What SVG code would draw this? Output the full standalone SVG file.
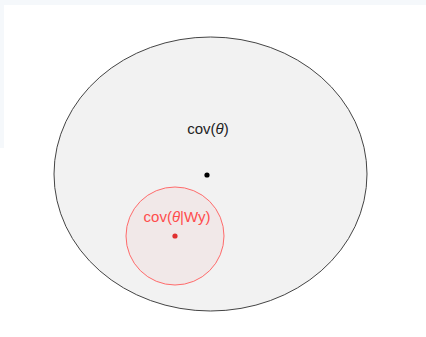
<svg xmlns="http://www.w3.org/2000/svg" width="426" height="337" viewBox="0 0 426 337">
<style>
.lbl{font-family:"Liberation Sans",Arial,sans-serif;font-size:15px;text-anchor:middle}
.it{font-style:italic}
</style>
<rect width="426" height="337" fill="#ffffff"/>
<rect x="0" y="0" width="426" height="5" fill="#f5f8fb"/>
<rect x="0" y="0" width="4" height="148" fill="#f5f8fb"/>
<g id="outer">
<ellipse cx="210.5" cy="174" rx="156.5" ry="137" fill="#f2f2f2" stroke="#444444" stroke-width="1"/>
<text class="lbl" x="208" y="134" fill="#222222">cov(<tspan class="it">θ</tspan>)</text>
<circle cx="207" cy="175" r="2.6" fill="#000000"/>
</g>
<g id="inner">
<circle cx="175" cy="236" r="49" fill="#f1e8e8" stroke="#ff6b6b" stroke-width="1"/>
<text class="lbl" x="177" y="222" fill="#ff4d4d">cov(<tspan class="it">θ</tspan>|Wy)</text>
<circle cx="175" cy="236" r="2.6" fill="#e03030"/>
</g>
<g id="connectors"/>
</svg>
